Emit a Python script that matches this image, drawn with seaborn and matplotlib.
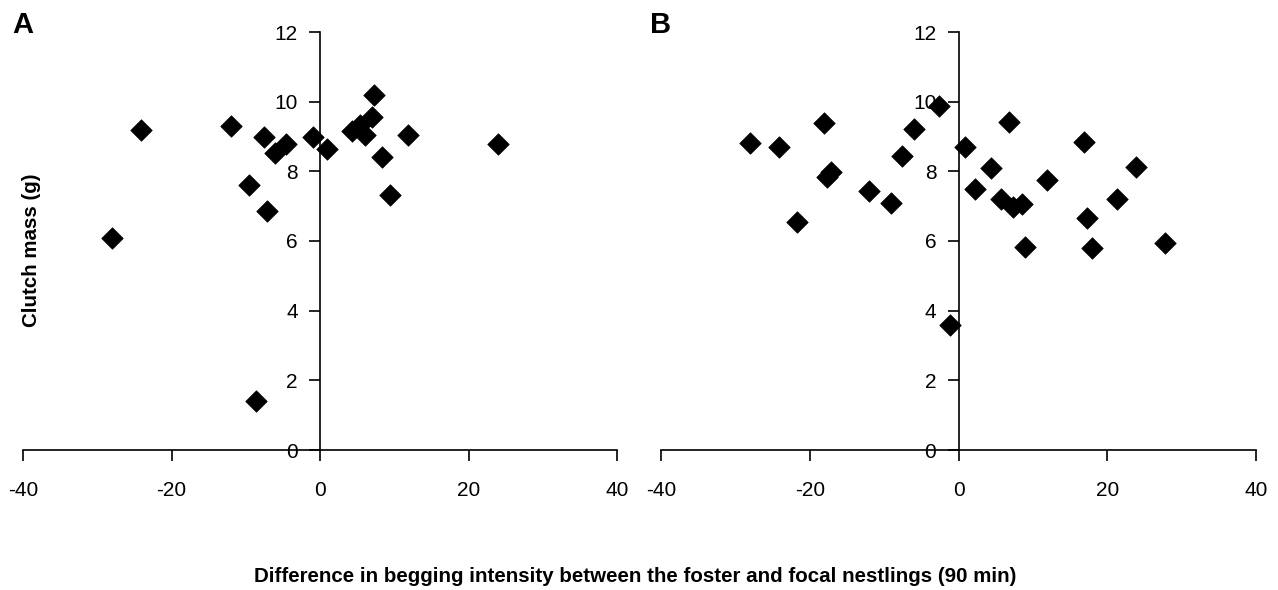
import matplotlib
matplotlib.use("Agg")
import matplotlib.pyplot as plt
import seaborn as sns
import pandas as pd

# Panel A data
a_diff = [-28.0, -24.1, -12.0, -7.5, -9.6, -7.1, -8.6, -6.0, -4.6, -1.0, 1.0,
          4.3, 5.4, 6.0, 7.0, 7.3, 8.4, 9.4, 11.9, 24.0]
a_mass = [6.10, 9.19, 9.31, 8.98, 7.61, 6.86, 1.42, 8.52, 8.78, 8.98, 8.65,
          9.17, 9.34, 9.03, 9.56, 10.2, 8.40, 7.32, 9.05, 8.79]

# Panel B data
b_diff = [-28.1, -24.1, -21.7, -18.1, -17.7, -17.1, -12.1, -9.1, -7.6, -6.0,
          -2.6, -1.2, 0.9, 2.2, 4.4, 5.7, 6.8, 7.3, 8.5, 8.9, 11.9, 16.9,
          17.3, 17.9, 21.3, 23.9, 27.8]
b_mass = [8.81, 8.71, 6.55, 9.40, 7.85, 7.97, 7.44, 7.08, 8.45, 9.22,
          9.88, 3.60, 8.71, 7.49, 8.09, 7.21, 9.41, 6.99, 7.06, 5.83, 7.74, 8.84,
          6.65, 5.79, 7.21, 8.12, 5.93]

x_ticks = [-40, -20, 0, 20, 40]
y_ticks = [0, 2, 4, 6, 8, 10, 12]
panel_labels = ["A", "B"]
x_label = "Difference in begging intensity between the foster and focal nestlings (90 min)"
y_label = "Clutch mass (g)"

sns.set_theme(style="white")
plt.rcParams['font.family'] = ['Liberation Sans', 'DejaVu Sans']
plt.rcParams['text.color'] = 'black'
plt.rcParams['axes.labelcolor'] = 'black'
plt.rcParams['xtick.color'] = 'black'
plt.rcParams['ytick.color'] = 'black'

fig = plt.figure(figsize=(12.78, 5.90), dpi=100)
fig.patch.set_facecolor("white")

positions = [[23/1278, 140/590, 594/1278, 418/590],
             [661/1278, 140/590, 595/1278, 418/590]]
datasets = [(a_diff, a_mass), (b_diff, b_mass)]

for pos, (xs, ys), lab in zip(positions, datasets, panel_labels):
    ax = fig.add_axes(pos)
    df = pd.DataFrame({"diff": xs, "mass": ys})
    sns.scatterplot(data=df, x="diff", y="mass", ax=ax, marker="D", s=120,
                    color="black", edgecolor="black", linewidth=0.5, zorder=3)
    ax.set_xlim(-40, 40)
    ax.set_ylim(0, 12)
    ax.set_xticks(x_ticks)
    ax.set_yticks(y_ticks)
    ax.set_xticklabels([str(t) for t in x_ticks])
    ax.set_yticklabels([str(t) for t in y_ticks])
    ax.spines['left'].set_position(('data', 0))
    ax.spines['bottom'].set_position(('data', 0))
    ax.spines['top'].set_visible(False)
    ax.spines['right'].set_visible(False)
    for sp in ("left", "bottom"):
        ax.spines[sp].set_linewidth(1.2)
        ax.spines[sp].set_color("black")
    ax.tick_params(axis="both", which="major", direction="out", length=8,
                   width=1.2, color="black", labelsize=15, labelcolor="black",
                   left=True, bottom=True)
    ax.tick_params(axis="x", pad=14)
    ax.tick_params(axis="y", pad=8)
    ax.set_xlabel("")
    ax.set_ylabel("")
    ax.patch.set_alpha(0)
    ax.grid(False)
    fig.text(pos[0] - 11/1278, 1 - 33/590, lab, fontsize=21, fontweight="bold",
             ha="left", va="baseline", color="black")

fig.text(635/1278, 1 - 577/590, x_label, fontsize=14.8, fontweight="bold",
         ha="center", va="center", color="black")
fig.text(32/1278, 1 - 250/590, y_label, fontsize=14.8, fontweight="bold",
         ha="center", va="center", rotation=90, color="black")

fig.savefig("out.png", dpi=100, facecolor="white")
